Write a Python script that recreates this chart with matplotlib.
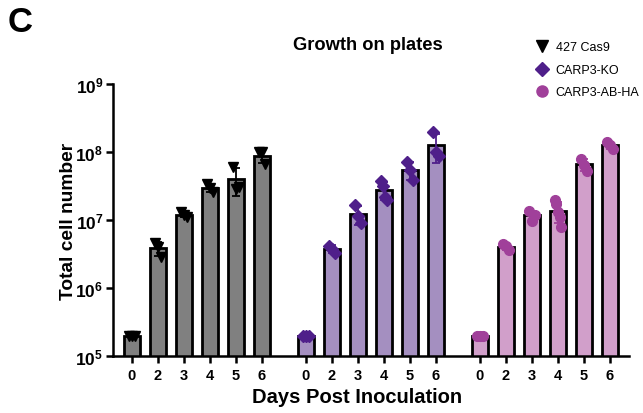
import numpy as np
import matplotlib
matplotlib.use("Agg")
import matplotlib.pyplot as plt
from matplotlib.lines import Line2D

plt.rcParams["font.family"] = ["Liberation Sans", "DejaVu Sans"]
plt.rcParams["mathtext.fontset"] = "custom"
plt.rcParams["mathtext.rm"] = "Liberation Sans"
plt.rcParams["mathtext.bf"] = "Liberation Sans:bold"

days = ["0", "2", "3", "4", "5", "6"]
strains = ["427 Cas9", "CARP3-KO", "CARP3-AB-HA"]

# replicate cell counts per day
cas9 = [
    [2.0e5, 2.0e5, 2.0e5],
    [4.6e6, 4.0e6, 2.9e6],
    [1.3e7, 1.2e7, 1.1e7],
    [3.4e7, 3.0e7, 2.6e7],
    [6.0e7, 2.9e7, 3.1e7],
    [1.0e8, 1.0e8, 6.6e7],
]
carp3_ko = [
    [2.0e5, 2.0e5, 2.0e5],
    [4.2e6, 3.8e6, 3.3e6],
    [1.66e7, 1.15e7, 9.1e6],
    [3.8e7, 3.2e7, 2.2e7, 2.0e7],
    [7.1e7, 5.5e7, 3.9e7],
    [1.95e8, 1.0e8, 8.7e7],
]
carp3_abha = [
    [2.0e5, 2.0e5, 2.0e5],
    [4.4e6, 4.2e6, 3.6e6],
    [1.35e7, 9.6e6, 1.2e7],
    [2.0e7, 1.7e7, 1.3e7, 1.1e7, 7.9e6],
    [7.9e7, 6.5e7, 5.3e7],
    [1.4e8, 1.25e8, 1.1e8],
]

series = [cas9, carp3_ko, carp3_abha]
bar_colors = ["#808080", "#a48fc0", "#d19fca"]
point_colors = ["#000000", "#4f1f8a", "#a0409a"]
markers = ["v", "D", "o"]
marker_sizes = [7, 6, 7]
group_step = 6.69

fig = plt.figure(figsize=(6.43, 4.14), dpi=100)
ax = fig.add_axes([113 / 643, 1 - 357 / 414, (629 - 113) / 643, (357 - 85) / 414])

tick_pos, tick_lab = [], []
for g, (reps, bc, pc, mk, ms) in enumerate(zip(series, bar_colors, point_colors, markers, marker_sizes)):
    xs = g * group_step + np.arange(len(days))
    means = np.array([np.mean(r) for r in reps])
    sds = np.array([np.std(r, ddof=1) for r in reps])
    ax.bar(xs, means, width=0.6, color=bc, edgecolor="black", linewidth=2, zorder=1)
    ax.errorbar(xs, means, yerr=sds, fmt="none", ecolor=pc, elinewidth=1.3,
                capsize=3, capthick=1.3, zorder=2)
    for x, r in zip(xs, reps):
        n = len(r)
        offs = np.linspace(-0.12, 0.12, n) if n > 1 else [0]
        ax.plot(x + np.asarray(offs), r, linestyle="none", marker=mk, color=pc,
                markersize=ms, zorder=3, clip_on=False)
    tick_pos.extend(xs)
    tick_lab.extend(days)

ax.set_yscale("log")
ax.set_ylim(1e5, 1e9)
ax.set_xlim(-0.73, 2 * group_step + 5 + 0.73)
ax.set_yticks([1e5, 1e6, 1e7, 1e8, 1e9])
ax.set_yticklabels([r"$\mathbf{10^{%d}}$" % k for k in range(5, 10)])
ax.yaxis.set_minor_locator(matplotlib.ticker.NullLocator())
ax.set_xticks(tick_pos)
ax.set_xticklabels(tick_lab, fontweight="bold")
ax.tick_params(axis="both", direction="out", length=5, width=1.8, labelsize=10.5, pad=4)
ax.tick_params(axis="y", labelsize=12.5, pad=2)
for s in ["top", "right"]:
    ax.spines[s].set_visible(False)
for s in ["left", "bottom"]:
    ax.spines[s].set_linewidth(1.8)

ax.set_ylabel("Total cell number", fontsize=13.8, fontweight="bold")
ax.yaxis.set_label_coords(-0.07, 0.5)
ax.set_xlabel("Days Post Inoculation", fontsize=14.5, fontweight="bold")
ax.xaxis.set_label_coords(0.473, -0.115)

fig.text(368 / 643, 1 - 45 / 414, "Growth on plates", fontsize=13.2, fontweight="bold",
         ha="center", va="center")
fig.text(8 / 643, 1 - 22 / 414, "C", fontsize=25, fontweight="bold", ha="left", va="center")

handles = [Line2D([], [], linestyle="none", marker=mk, color=pc, markersize=ms + 1)
           for mk, pc, ms in zip(markers, point_colors, marker_sizes)]
fig.legend(handles, strains, loc="upper left", bbox_to_anchor=(528 / 643, 1 - 36 / 414),
           frameon=False, fontsize=9, handletextpad=0.5, labelspacing=0.85,
           borderpad=0, handlelength=1.2)

fig.savefig("out.png", dpi=100)
